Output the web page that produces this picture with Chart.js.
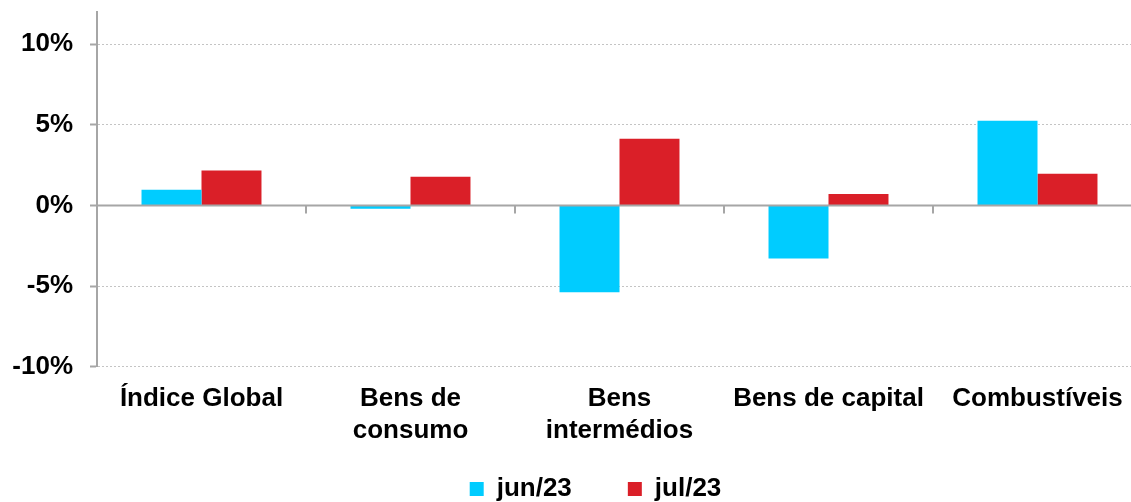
<!DOCTYPE html>
<html>
<head>
<meta charset="utf-8">
<script src="https://cdn.jsdelivr.net/npm/chart.js@4"></script>
<style>
  html, body { margin: 0; padding: 0; background: #fff; overflow: hidden; width: 1131px; height: 502px; }
  #wrap { position: absolute; left: 0; top: 0; width: 1179px; height: 502px; }
</style>
</head>
<body>
<div id="wrap"><canvas id="c" width="1179" height="502"></canvas></div>
<script>
const categories = ["Índice Global", ["Bens de", "consumo"], ["Bens", "intermédios"], "Bens de capital", "Combustíveis"];
const seriesNames = ["jun/23", "jul/23"];
const jun23 = [0.97, -0.2, -5.39, -3.3, 5.25];
const jul23 = [2.17, 1.78, 4.13, 0.71, 1.96];
const yTicks = [-10, -5, 0, 5, 10];
const yMin = -10;
const yMax = 12;

const FONT = "'Liberation Sans', Arial, sans-serif";
const AXIS_GRAY = '#A6A6A6';
const LEGEND_ROW_CENTER = 489;

const zeroAxisPlugin = {
  id: 'zeroAxis',
  afterLayout(chart) {
    const lg = chart.legend;
    if (lg) {
      const pad = lg.options.labels.padding;
      const half = lg.options.labels.font.size / 2;
      lg.top = LEGEND_ROW_CENTER - half - pad;
      lg.bottom = chart.height;
    }
  },
  afterDatasetsDraw(chart) {
    const {ctx, chartArea, scales} = chart;
    const y = scales.y;
    const y0 = y.getPixelForValue(0);
    ctx.save();
    ctx.strokeStyle = AXIS_GRAY;
    ctx.lineWidth = 2;
    ctx.beginPath();
    ctx.moveTo(chartArea.left, y0);
    ctx.lineTo(chartArea.right, y0);
    ctx.stroke();
    const n = categories.length;
    const w = (chartArea.right - chartArea.left) / n;
    ctx.beginPath();
    for (let i = 1; i <= n; i++) {
      const px = Math.round(chartArea.left + i * w);
      ctx.moveTo(px, y0);
      ctx.lineTo(px, y0 + 8);
    }
    ctx.stroke();
    ctx.restore();
  }
};

new Chart(document.getElementById('c'), {
  type: 'bar',
  data: {
    labels: categories,
    datasets: [
      { label: seriesNames[0], data: jun23, backgroundColor: '#00CCFF', borderWidth: 0 },
      { label: seriesNames[1], data: jul23, backgroundColor: '#DA1F28', borderWidth: 0 }
    ]
  },
  options: {
    responsive: false,
    animation: false,
    layout: { padding: { left: 12, right: 0, top: 12, bottom: 0 } },
    datasets: { bar: { categoryPercentage: 0.574, barPercentage: 1.0 } },
    plugins: {
      tooltip: { enabled: false },
      legend: {
        position: 'bottom',
        maxHeight: 39,
        labels: {
          boxWidth: 14, boxHeight: 14, padding: 56,
          color: '#000',
          font: { family: FONT, size: 26, weight: 'bold' }
        }
      }
    },
    scales: {
      x: {
        grid: { display: false, drawTicks: false },
        border: { display: false },
        ticks: {
          color: '#000', padding: 17, maxRotation: 0, autoSkip: false,
          font: { family: FONT, size: 26, weight: 'bold', lineHeight: 1.2 }
        }
      },
      y: {
        min: yMin, max: yMax,
        afterBuildTicks: (scale) => { scale.ticks = yTicks.map(v => ({ value: v })); },
        afterFit: (scale) => { scale.width = 85; scale.paddingTop = 0; scale.paddingBottom = 0; },
        grid: {
          color: (c) => (c.tick && c.tick.value === 0) ? 'rgba(0,0,0,0)' : '#C4C4C4',
          lineWidth: 1,
          tickLength: 7, tickColor: AXIS_GRAY, tickWidth: 2
        },
        border: { display: true, color: AXIS_GRAY, width: 2, dash: [2, 2] },
        ticks: {
          color: '#000', padding: 17,
          font: { family: FONT, size: 26, weight: 'bold' },
          callback: (v) => v + '%'
        }
      },
      yR: {
        position: 'right',
        display: true,
        grid: { display: false, drawOnChartArea: false, drawTicks: false },
        border: { display: false },
        ticks: { display: false },
        afterFit: (scale) => { scale.width = 37; scale.paddingTop = 0; scale.paddingBottom = 0; }
      }
    }
  },
  plugins: [zeroAxisPlugin]
});
</script>
</body>
</html>
